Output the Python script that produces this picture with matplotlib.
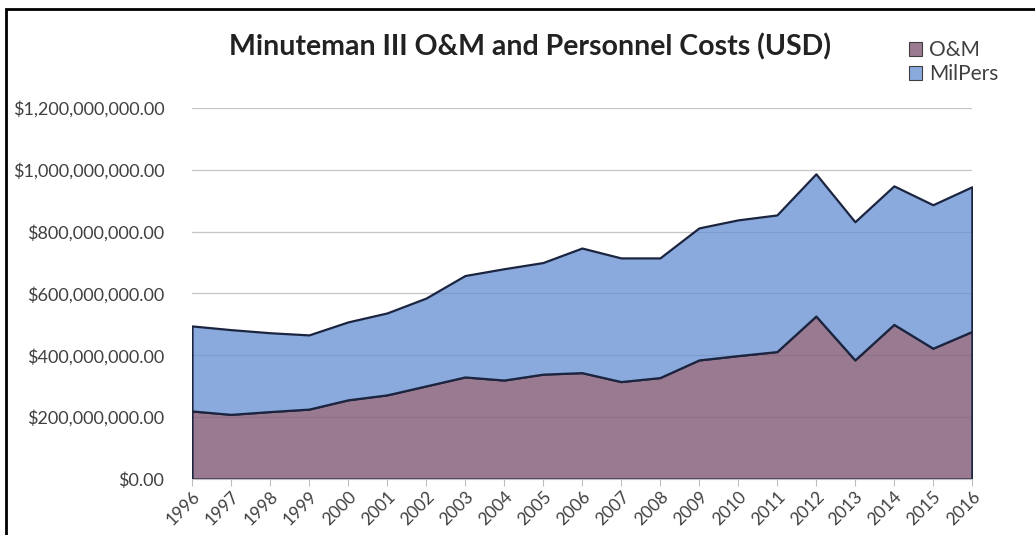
import matplotlib.pyplot as plt
from matplotlib.ticker import FuncFormatter
from matplotlib.patches import Rectangle

years = list(range(1996, 2017))
# O&M (bottom layer) and total (top edge), USD
om = [220e6, 209e6, 218e6, 226e6, 256e6, 272e6, 301e6, 330e6, 320e6, 339e6,
      344e6, 315e6, 328e6, 385e6, 399e6, 412e6, 527e6, 385e6, 500e6, 423e6, 477e6]
total = [495e6, 483e6, 473e6, 466e6, 508e6, 537e6, 585e6, 658e6, 680e6, 700e6,
         747e6, 715e6, 715e6, 812e6, 838e6, 854e6, 987e6, 832e6, 948e6, 887e6, 945e6]
milpers = [t - o for t, o in zip(total, om)]

om_color = '#9a7a90'
mp_color = '#8aa9dc'
edge = '#1c2540'

plt.rcParams['font.family'] = ['Lato', 'DejaVu Sans']

fig = plt.figure(figsize=(10.35, 5.35), dpi=100)
ax = fig.add_axes([0.1855, 0.1047, 0.7535, 0.6935])

ax.stackplot(years, om, milpers, colors=[om_color, mp_color],
             edgecolor=edge, linewidth=1.6, zorder=2)

# grid lines show through the fill
for v in range(0, 1400000000, 200000000):
    ax.axhline(v, color='#d9d9d9', lw=1, zorder=1)
    ax.axhline(v, color='#000000', lw=0.8, alpha=0.08, zorder=3)

ax.set_xlim(1996, 2016)
ax.set_ylim(0, 1.2e9)
ax.set_yticks(range(0, 1400000000, 200000000))
ax.yaxis.set_major_formatter(FuncFormatter(lambda v, p: '${:,.2f}'.format(v)))
ax.set_xticks(years)
ax.set_xticklabels([str(y) for y in years], rotation=45, ha='right',
                   rotation_mode='anchor')

for s in ['top', 'right', 'left']:
    ax.spines[s].set_visible(False)
ax.spines['bottom'].set_color('#bfbfbf')
ax.tick_params(axis='y', length=0, pad=20, labelsize=13, labelcolor='#404040')
ax.tick_params(axis='x', length=5, color='#bfbfbf', labelsize=12.5,
               labelcolor='#404040', pad=2)

fig.text(0.512, 0.912, 'Minuteman III O&M and Personnel Costs (USD)',
         ha='center', va='center', fontsize=20.5, fontweight='bold', color='#222222')

handles = [Rectangle((0, 0), 1, 1, facecolor=om_color, edgecolor='#404040', lw=0.8),
           Rectangle((0, 0), 1, 1, facecolor=mp_color, edgecolor='#404040', lw=0.8)]
fig.legend(handles, ['O&M', 'MilPers'], loc='upper left',
           bbox_to_anchor=(0.86, 0.96), frameon=False, fontsize=15,
           handlelength=0.65, handleheight=0.65, handletextpad=0.3,
           labelspacing=0.2, labelcolor='#404040')

# outer frame of the screenshot
fig.patches.append(Rectangle((0.006, -0.01), 1.2, 0.994, transform=fig.transFigure,
                             fill=False, edgecolor='black', lw=2))

fig.savefig('out.png', dpi=100)
